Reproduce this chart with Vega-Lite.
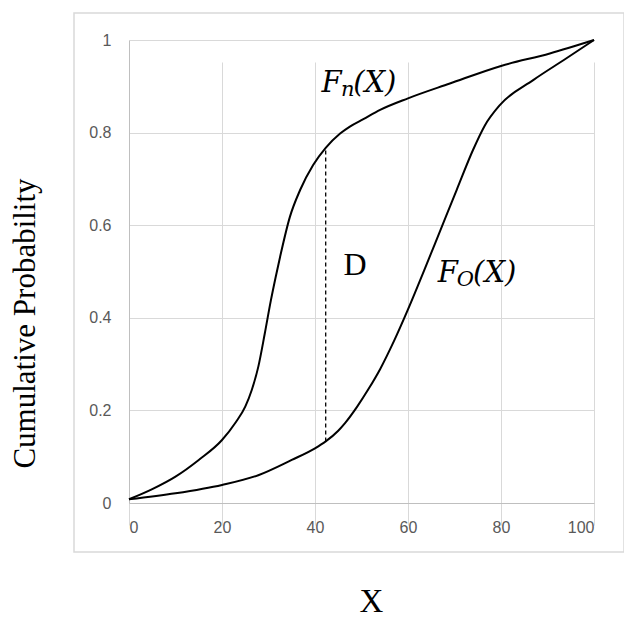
{
  "$schema": "https://vega.github.io/schema/vega-lite/v6.json",
  "width": 550,
  "height": 539,
  "autosize": {"type": "none"},
  "padding": {"left": 74, "top": 13, "right": 0, "bottom": 65},
  "background": "white",
  "config": {
    "view": {"stroke": "#d9d9d9", "strokeWidth": 1.5},
    "axis": {
      "grid": true,
      "gridColor": "#d9d9d9",
      "gridWidth": 1,
      "domainColor": "#bfbfbf",
      "domainWidth": 1,
      "ticks": false,
      "tickSize": 0,
      "labelColor": "#595959",
      "labelFont": "Liberation Sans",
      "labelFontSize": 16,
      "titleFont": "Liberation Serif",
      "titleFontWeight": "normal",
      "titleColor": "#000000"
    }
  },
  "datasets": {
    "curves": [
      {"curve": "Fn", "x": 0, "p": 0.008},
      {"curve": "Fn", "x": 5, "p": 0.03},
      {"curve": "Fn", "x": 10, "p": 0.057},
      {"curve": "Fn", "x": 15, "p": 0.093},
      {"curve": "Fn", "x": 20, "p": 0.136},
      {"curve": "Fn", "x": 23, "p": 0.175},
      {"curve": "Fn", "x": 25, "p": 0.208},
      {"curve": "Fn", "x": 26.4, "p": 0.244},
      {"curve": "Fn", "x": 27.8, "p": 0.294},
      {"curve": "Fn", "x": 29.2, "p": 0.366},
      {"curve": "Fn", "x": 30.5, "p": 0.437},
      {"curve": "Fn", "x": 31.5, "p": 0.486},
      {"curve": "Fn", "x": 32.5, "p": 0.532},
      {"curve": "Fn", "x": 34.6, "p": 0.618},
      {"curve": "Fn", "x": 36.8, "p": 0.676},
      {"curve": "Fn", "x": 39.6, "p": 0.73},
      {"curve": "Fn", "x": 42.3, "p": 0.767},
      {"curve": "Fn", "x": 45.4, "p": 0.798},
      {"curve": "Fn", "x": 47.5, "p": 0.813},
      {"curve": "Fn", "x": 50.4, "p": 0.829},
      {"curve": "Fn", "x": 54, "p": 0.849},
      {"curve": "Fn", "x": 60, "p": 0.874},
      {"curve": "Fn", "x": 69, "p": 0.906},
      {"curve": "Fn", "x": 80, "p": 0.944},
      {"curve": "Fn", "x": 90.5, "p": 0.971},
      {"curve": "Fn", "x": 100, "p": 1.0},
      {"curve": "Fo", "x": 0, "p": 0.008},
      {"curve": "Fo", "x": 10, "p": 0.021},
      {"curve": "Fo", "x": 20, "p": 0.039},
      {"curve": "Fo", "x": 27.8, "p": 0.06},
      {"curve": "Fo", "x": 35, "p": 0.093},
      {"curve": "Fo", "x": 40, "p": 0.118},
      {"curve": "Fo", "x": 42.3, "p": 0.133},
      {"curve": "Fo", "x": 45, "p": 0.156},
      {"curve": "Fo", "x": 46.5, "p": 0.173},
      {"curve": "Fo", "x": 49, "p": 0.207},
      {"curve": "Fo", "x": 51.5, "p": 0.246},
      {"curve": "Fo", "x": 54, "p": 0.289},
      {"curve": "Fo", "x": 57, "p": 0.35},
      {"curve": "Fo", "x": 60, "p": 0.418},
      {"curve": "Fo", "x": 63.5, "p": 0.503},
      {"curve": "Fo", "x": 67, "p": 0.59},
      {"curve": "Fo", "x": 70.5, "p": 0.677},
      {"curve": "Fo", "x": 74, "p": 0.763},
      {"curve": "Fo", "x": 76.5, "p": 0.815},
      {"curve": "Fo", "x": 79.8, "p": 0.86},
      {"curve": "Fo", "x": 87, "p": 0.914},
      {"curve": "Fo", "x": 94, "p": 0.96},
      {"curve": "Fo", "x": 100, "p": 1.0}
    ],
    "gap": [
      {"x": 42.3, "p": 0.133, "p2": 0.767}
    ],
    "labels": [
      {"part": "main", "text": "F", "x": 41.4, "p": 0.888},
      {"part": "sub", "text": "n", "x": 45.6, "p": 0.888},
      {"part": "rest", "text": "(X)", "x": 48.2, "p": 0.888},
      {"part": "main", "text": "F", "x": 66.4, "p": 0.478},
      {"part": "sub", "text": "O", "x": 70.5, "p": 0.478},
      {"part": "rest", "text": "(X)", "x": 74.0, "p": 0.478},
      {"part": "plain", "text": "D", "x": 48.6, "p": 0.4925}
    ]
  },
  "layer": [
    {
      "data": {"name": "curves"},
      "mark": {"type": "line", "interpolate": "monotone", "color": "#000000", "strokeWidth": 2},
      "encoding": {
        "x": {
          "field": "x",
          "type": "quantitative",
          "scale": {"domain": [0, 100], "range": [55, 520], "nice": false, "zero": false},
          "axis": {
            "values": [0, 20, 40, 60, 80, 100],
            "offset": -49,
            "labelPadding": 16,
            "title": "X",
            "titleFontSize": 33,
            "titleX": 297,
            "titleY": 108,
            "titleBaseline": "alphabetic"
          }
        },
        "y": {
          "field": "p",
          "type": "quantitative",
          "scale": {"domain": [0, 1], "range": [490, 27], "nice": false},
          "axis": {
            "values": [0, 0.2, 0.4, 0.6, 0.8, 1],
            "format": "~g",
            "offset": -55,
            "labelPadding": 18,
            "title": "Cumulative Probability",
            "titleFontSize": 31,
            "titleX": -95,
            "titleY": 310,
            "titleAngle": -90,
            "titleAlign": "center",
            "titleBaseline": "alphabetic"
          }
        },
        "detail": {"field": "curve", "type": "nominal"}
      }
    },
    {
      "data": {"name": "gap"},
      "mark": {"type": "rule", "color": "#000000", "strokeWidth": 1.3, "strokeDash": [4, 3]},
      "encoding": {
        "x": {"field": "x", "type": "quantitative"},
        "y": {"field": "p", "type": "quantitative"},
        "y2": {"field": "p2"}
      }
    },
    {
      "data": {"name": "labels"},
      "transform": [{"filter": "datum.part === 'main' || datum.part === 'rest'"}],
      "mark": {"type": "text", "font": "DejaVu Serif", "fontStyle": "italic", "fontSize": 29, "align": "left", "baseline": "alphabetic", "color": "#000000"},
      "encoding": {
        "x": {"field": "x", "type": "quantitative"},
        "y": {"field": "p", "type": "quantitative"},
        "text": {"field": "text"}
      }
    },
    {
      "data": {"name": "labels"},
      "transform": [{"filter": "datum.part === 'sub'"}],
      "mark": {"type": "text", "font": "DejaVu Serif", "fontStyle": "italic", "fontSize": 21, "align": "left", "baseline": "alphabetic", "dy": 4, "color": "#000000"},
      "encoding": {
        "x": {"field": "x", "type": "quantitative"},
        "y": {"field": "p", "type": "quantitative"},
        "text": {"field": "text"}
      }
    },
    {
      "data": {"name": "labels"},
      "transform": [{"filter": "datum.part === 'plain'"}],
      "mark": {"type": "text", "font": "Liberation Serif", "fontSize": 32, "align": "center", "baseline": "alphabetic", "color": "#000000"},
      "encoding": {
        "x": {"field": "x", "type": "quantitative"},
        "y": {"field": "p", "type": "quantitative"},
        "text": {"field": "text"}
      }
    }
  ]
}
